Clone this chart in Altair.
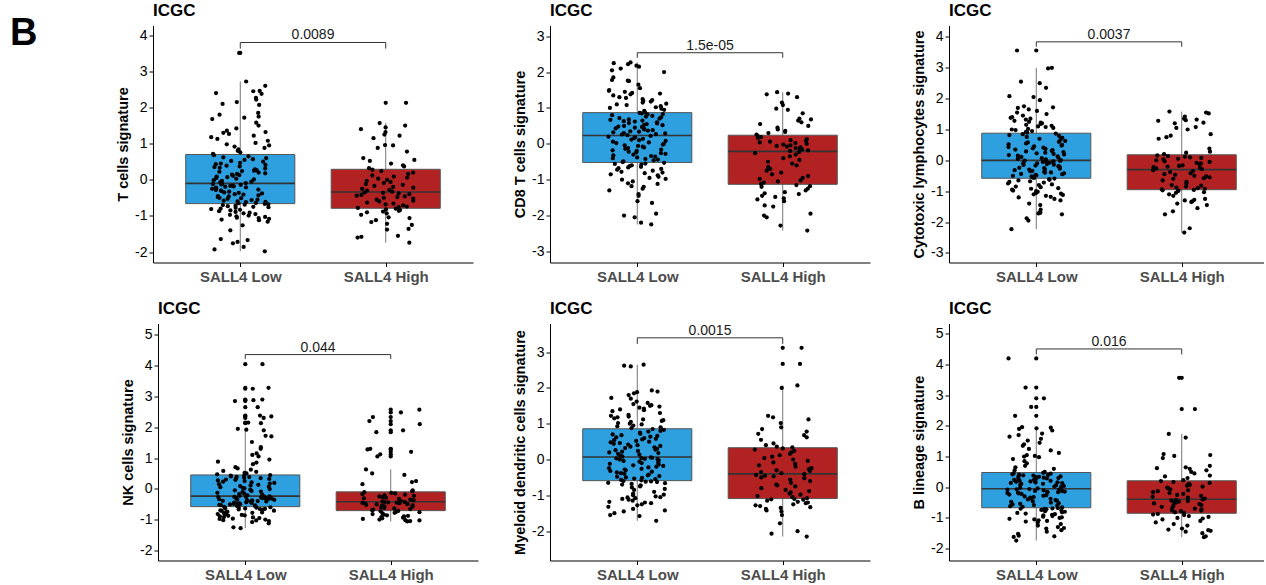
import altair as alt
import pandas as pd

FONT = "Liberation Sans"
GROUP_NAMES = ["SALL4 Low", "SALL4 High"]
BOX_FILL = ["#2E9FDF", "#B22222"]

# ---- panel texts -----------------------------------------------------------
y_titles = [
    "T cells signature",
    "CD8 T cells signature",
    "Cytotoxic lymphocytes signature",
    "NK cells signature",
    "Myeloid dendritic cells signature",
    "B lineage signature",
]
p_values = ["0.0089", "1.5e-05", "0.0037", "0.044", "0.0015", "0.016"]
bracket_top = [3.80, 2.54, 3.84, 4.36, 3.40, 4.51]
bracket_foot = [3.63, 2.40, 3.68, 4.22, 3.23, 4.33]
y_domains = [[-2.29, 4.27], [-3.31, 3.30], [-3.31, 4.37],
             [-2.33, 5.37], [-2.82, 3.80], [-2.39, 5.34]]
y_ticks = [list(range(-2, 5)), list(range(-3, 4)), list(range(-3, 5)),
           list(range(-2, 6)), list(range(-2, 4)), list(range(-2, 6))]

# ---- box statistics per panel: [SALL4 Low, SALL4 High] ---------------------
box_lo = [[-1.98, -1.74], [-2.25, -2.42], [-2.23, -2.34],
          [-1.28, -1.06], [-1.71, -2.15], [-1.74, -1.63]]
box_q1 = [[-0.66, -0.79], [-0.52, -1.13], [-0.58, -0.95],
          [-0.58, -0.71], [-0.59, -1.09], [-0.67, -0.85]]
box_med = [[-0.10, -0.34], [0.23, -0.21], [0.00, -0.30],
           [-0.24, -0.42], [0.07, -0.40], [-0.05, -0.39]]
box_q3 = [[0.70, 0.29], [0.87, 0.24], [0.88, 0.18],
          [0.45, -0.10], [0.86, 0.33], [0.48, 0.21]]
box_hi = [[2.72, 1.57], [2.27, 1.44], [3.00, 1.58],
          [1.95, 0.63], [2.65, 2.07], [1.96, 1.74]]

# ---- signature scores ------------------------------------------------------
t_low = [
    -1.98, -1.93, -1.86, -1.76, -1.72, -1.67, -1.64, -1.40, -1.26, -1.16,
    -1.12, -1.10, -1.08, -1.06, -1.05, -1.03, -1.01, -0.99, -0.97, -0.95,
    -0.93, -0.91, -0.89, -0.87, -0.85, -0.83, -0.81, -0.80, -0.78, -0.76,
    -0.75, -0.73, -0.72, -0.70, -0.69, -0.68, -0.67,
    -0.65, -0.64, -0.62, -0.61, -0.60, -0.58, -0.56, -0.55, -0.53, -0.51,
    -0.50, -0.48, -0.46, -0.45, -0.43, -0.41, -0.40, -0.38, -0.36, -0.35,
    -0.33, -0.31, -0.30, -0.28, -0.27, -0.25, -0.24, -0.22, -0.21, -0.19,
    -0.18, -0.17, -0.16, -0.14, -0.13, -0.12, -0.11,
    -0.09, -0.07, -0.05, -0.03, -0.01, 0.01, 0.03, 0.05, 0.07, 0.09,
    0.11, 0.13, 0.14, 0.16, 0.18, 0.20, 0.22, 0.24, 0.25, 0.27,
    0.29, 0.31, 0.33, 0.35, 0.37, 0.39, 0.41, 0.43, 0.45, 0.47,
    0.50, 0.52, 0.55, 0.57, 0.60, 0.62, 0.65, 0.68,
    0.72, 0.76, 0.80, 0.84, 0.88, 0.92, 0.95, 0.98, 1.02, 1.08,
    1.13, 1.18, 1.22, 1.27, 1.30, 1.32, 1.36, 1.42, 1.50, 1.58,
    1.68, 1.72, 1.75, 1.80, 1.85, 2.07, 2.10, 2.15, 2.22, 2.27,
    2.38, 2.40, 2.45, 2.46, 2.60, 2.72, 3.51,
]
t_high = [
    -1.74, -1.60, -1.58, -1.55, -1.38, -1.36, -1.25, -1.22, -1.17, -1.12,
    -1.06, -1.04, -0.97, -0.93, -0.90, -0.88, -0.86, -0.84, -0.82, -0.80,
    -0.78, -0.76, -0.74, -0.71, -0.68, -0.66, -0.63, -0.60, -0.58, -0.55,
    -0.52, -0.50, -0.48, -0.46, -0.44, -0.42, -0.40, -0.38, -0.36, -0.35,
    -0.33, -0.30, -0.28, -0.25, -0.22, -0.20, -0.17, -0.14, -0.12, -0.09,
    -0.06, -0.03, 0.00, 0.03, 0.06, 0.09, 0.12, 0.16, 0.20, 0.24, 0.28,
    0.32, 0.37, 0.40, 0.45, 0.52, 0.55, 0.60, 0.78, 0.88, 0.95,
    0.96, 1.15, 1.22, 1.25, 1.32, 1.40, 1.45, 1.50, 1.57, 2.13,
]
cd8_low = [
    -2.25, -2.20, -2.05, -2.00, -1.95, -1.65, -1.60, -1.45, -1.40, -1.30,
    -1.25, -1.20, -1.18, -1.12, -1.10, -1.05, -1.00, -0.98, -0.95, -0.92,
    -0.88, -0.85, -0.82, -0.80, -0.78, -0.75, -0.72, -0.70, -0.68, -0.66,
    -0.64, -0.62, -0.60, -0.58, -0.56, -0.55, -0.53,
    -0.51, -0.49, -0.46, -0.44, -0.42, -0.40, -0.38, -0.36, -0.34, -0.32,
    -0.30, -0.28, -0.26, -0.24, -0.22, -0.20, -0.18, -0.16, -0.14, -0.12,
    -0.10, -0.08, -0.06, -0.04, -0.02, 0.00, 0.02, 0.04, 0.06, 0.08,
    0.10, 0.12, 0.14, 0.16, 0.18, 0.20, 0.22,
    0.24, 0.26, 0.27, 0.29, 0.30, 0.32, 0.34, 0.35, 0.37, 0.38,
    0.40, 0.42, 0.43, 0.45, 0.47, 0.48, 0.50, 0.52, 0.53, 0.55,
    0.57, 0.58, 0.60, 0.62, 0.63, 0.65, 0.67, 0.68, 0.70, 0.72,
    0.74, 0.76, 0.78, 0.80, 0.82, 0.83, 0.85, 0.86,
    0.88, 0.92, 0.95, 0.98, 1.00, 1.02, 1.05, 1.08, 1.10, 1.12,
    1.15, 1.18, 1.20, 1.22, 1.25, 1.28, 1.30, 1.35, 1.38, 1.40,
    1.42, 1.45, 1.48, 1.50, 1.55, 1.65, 1.75, 1.76, 1.78, 1.85,
    2.00, 2.05, 2.10, 2.15, 2.18, 2.22, 2.25, 2.27,
]
cd8_high = [
    -2.42, -2.28, -2.05, -2.00, -1.95, -1.75, -1.72, -1.60, -1.55, -1.52,
    -1.48, -1.45, -1.40, -1.38, -1.35, -1.30, -1.25, -1.20, -1.18, -1.15,
    -1.12, -1.08, -1.05, -1.02, -0.98, -0.95, -0.90, -0.85, -0.80, -0.75,
    -0.70, -0.65, -0.60, -0.55, -0.50, -0.45, -0.40, -0.35, -0.30, -0.26,
    -0.23, -0.20, -0.18, -0.16, -0.14, -0.12, -0.10, -0.08, -0.06, -0.04,
    -0.02, 0.00, 0.02, 0.04, 0.06, 0.08, 0.10, 0.13, 0.16, 0.19, 0.22,
    0.26, 0.30, 0.33, 0.36, 0.40, 0.45, 0.50, 0.55, 0.60, 0.65,
    0.68, 0.70, 0.85, 0.95, 0.98, 1.08, 1.15, 1.30, 1.38, 1.40, 1.44,
]
cyt_low = [
    -2.23, -1.95, -1.88, -1.75, -1.72, -1.70, -1.68, -1.60, -1.45, -1.40,
    -1.30, -1.25, -1.20, -1.18, -1.15, -1.12, -1.10, -1.08, -1.05, -1.02,
    -1.00, -0.98, -0.95, -0.92, -0.90, -0.87, -0.85, -0.80, -0.78, -0.75,
    -0.72, -0.70, -0.68, -0.65, -0.63, -0.61, -0.59,
    -0.57, -0.55, -0.54, -0.52, -0.50, -0.49, -0.47, -0.45, -0.44, -0.42,
    -0.40, -0.39, -0.37, -0.35, -0.34, -0.32, -0.30, -0.29, -0.27, -0.25,
    -0.24, -0.22, -0.20, -0.19, -0.17, -0.15, -0.14, -0.12, -0.10, -0.09,
    -0.08, -0.07, -0.05, -0.04, -0.03, -0.02, -0.01,
    0.01, 0.03, 0.05, 0.07, 0.09, 0.11, 0.13, 0.15, 0.17, 0.19,
    0.21, 0.23, 0.25, 0.27, 0.29, 0.31, 0.33, 0.35, 0.37, 0.39,
    0.41, 0.43, 0.45, 0.48, 0.50, 0.52, 0.55, 0.58, 0.60, 0.63,
    0.66, 0.70, 0.73, 0.76, 0.79, 0.82, 0.85, 0.87,
    0.90, 0.92, 0.95, 0.98, 1.00, 1.02, 1.05, 1.08, 1.10, 1.12,
    1.15, 1.18, 1.20, 1.22, 1.25, 1.28, 1.32, 1.35, 1.38, 1.40,
    1.45, 1.50, 1.55, 1.60, 1.65, 1.70, 1.72, 1.75, 1.95, 2.05,
    2.08, 2.35, 2.50, 2.55, 2.98, 3.00, 3.56,
]
cyt_high = [
    -2.34, -2.20, -1.75, -1.65, -1.55, -1.45, -1.40, -1.35, -1.33, -1.30,
    -1.28, -1.25, -1.15, -1.10, -1.05, -1.03, -1.00, -0.98, -0.97, -0.96,
    -0.94, -0.92, -0.90, -0.88, -0.85, -0.82, -0.80, -0.75, -0.70, -0.65,
    -0.60, -0.58, -0.55, -0.52, -0.50, -0.47, -0.45, -0.42, -0.38, -0.35,
    -0.32, -0.28, -0.26, -0.24, -0.22, -0.20, -0.18, -0.16, -0.13, -0.10,
    -0.08, -0.05, -0.03, 0.00, 0.03, 0.05, 0.08, 0.10, 0.12, 0.14, 0.16,
    0.20, 0.25, 0.28, 0.38, 0.70, 0.75, 0.80, 0.85, 1.00, 1.05,
    1.08, 1.20, 1.22, 1.28, 1.30, 1.32, 1.35, 1.42, 1.52, 1.55, 1.58,
]
nk_low = [
    -1.28, -1.25, -1.12, -1.08, -1.05, -1.03, -1.02, -1.00, -0.98, -0.97,
    -0.95, -0.93, -0.92, -0.90, -0.88, -0.86, -0.85, -0.83, -0.82, -0.80,
    -0.78, -0.77, -0.75, -0.74, -0.72, -0.71, -0.70, -0.68, -0.67, -0.66,
    -0.65, -0.64, -0.63, -0.62, -0.61, -0.60, -0.59,
    -0.57, -0.56, -0.55, -0.54, -0.53, -0.52, -0.51, -0.50, -0.49, -0.48,
    -0.47, -0.46, -0.45, -0.44, -0.43, -0.42, -0.41, -0.40, -0.39, -0.38,
    -0.37, -0.36, -0.35, -0.34, -0.33, -0.32, -0.31, -0.30, -0.30, -0.29,
    -0.28, -0.28, -0.27, -0.26, -0.26, -0.25, -0.25,
    -0.23, -0.21, -0.19, -0.17, -0.15, -0.13, -0.11, -0.09, -0.07, -0.05,
    -0.03, -0.01, 0.01, 0.03, 0.05, 0.07, 0.09, 0.11, 0.13, 0.15,
    0.17, 0.19, 0.21, 0.23, 0.25, 0.27, 0.29, 0.30, 0.32, 0.33,
    0.35, 0.36, 0.38, 0.39, 0.40, 0.42, 0.43, 0.44,
    0.47, 0.50, 0.52, 0.55, 0.58, 0.62, 0.66, 0.70, 0.80, 0.85,
    0.88, 0.95, 1.05, 1.10, 1.15, 1.30, 1.35, 1.52, 1.70, 1.72,
    1.90, 1.92, 1.95,
    2.13, 2.15, 2.30, 2.35, 2.38, 2.65, 2.85, 2.88, 2.90, 3.25,
    3.28, 4.05,
]
nk_high = [
    -1.06, -1.05, -1.03, -1.02, -1.00, -0.98, -0.96, -0.94, -0.92, -0.90,
    -0.88, -0.86, -0.84, -0.82, -0.80, -0.78, -0.76, -0.75, -0.73, -0.72,
    -0.70, -0.68, -0.66, -0.64, -0.62, -0.60, -0.58, -0.57, -0.55, -0.54,
    -0.52, -0.51, -0.50, -0.48, -0.47, -0.46, -0.45, -0.44, -0.43, -0.43,
    -0.41, -0.39, -0.37, -0.35, -0.33, -0.31, -0.29, -0.27, -0.25, -0.23,
    -0.21, -0.19, -0.17, -0.15, -0.13, -0.11,
    -0.08, -0.05, 0.15, 0.22, 0.25, 0.45, 0.50, 0.63,
    1.05, 1.12, 1.20, 1.28, 1.30, 1.84, 1.90, 2.10, 2.20, 2.33,
    2.48, 2.57,
]
mdc_low = [
    -1.71, -1.58, -1.55, -1.50, -1.45, -1.42, -1.38, -1.32, -1.28, -1.25,
    -1.22, -1.20, -1.18, -1.15, -1.12, -1.10, -1.08, -1.06, -1.05, -1.03,
    -1.00, -0.98, -0.95, -0.90, -0.85, -0.82, -0.78, -0.75, -0.72, -0.70,
    -0.68, -0.66, -0.65, -0.63, -0.62, -0.61, -0.60,
    -0.58, -0.57, -0.55, -0.53, -0.51, -0.50, -0.48, -0.46, -0.44, -0.42,
    -0.40, -0.38, -0.36, -0.34, -0.32, -0.30, -0.28, -0.26, -0.24, -0.22,
    -0.20, -0.18, -0.16, -0.14, -0.12, -0.10, -0.08, -0.06, -0.04, -0.02,
    0.00, 0.01, 0.02, 0.03, 0.04, 0.05, 0.06,
    0.08, 0.10, 0.12, 0.14, 0.16, 0.18, 0.20, 0.22, 0.24, 0.26,
    0.28, 0.30, 0.32, 0.34, 0.36, 0.38, 0.40, 0.42, 0.44, 0.46,
    0.48, 0.50, 0.52, 0.54, 0.56, 0.58, 0.60, 0.62, 0.64, 0.66,
    0.68, 0.70, 0.72, 0.75, 0.78, 0.80, 0.83, 0.85,
    0.88, 0.90, 0.93, 0.95, 0.98, 1.00, 1.02, 1.05, 1.08, 1.10,
    1.12, 1.15, 1.18, 1.20, 1.22, 1.25, 1.30, 1.35, 1.38, 1.40,
    1.42, 1.45, 1.48, 1.50, 1.52, 1.55, 1.58, 1.62, 1.70, 1.72,
    1.80, 1.85, 1.88, 1.90, 1.93, 2.60, 2.62, 2.65,
]
mdc_high = [
    -2.15, -2.07, -2.00, -1.78, -1.55, -1.45, -1.42, -1.38, -1.35, -1.33,
    -1.30, -1.28, -1.25, -1.22, -1.20, -1.18, -1.15, -1.12, -1.11, -1.10,
    -1.08, -1.05, -1.02, -0.98, -0.95, -0.92, -0.88, -0.85, -0.80, -0.75,
    -0.72, -0.70, -0.65, -0.60, -0.56, -0.52, -0.50, -0.47, -0.45, -0.43,
    -0.41, -0.38, -0.35, -0.32, -0.30, -0.27, -0.24, -0.20, -0.16, -0.12,
    -0.08, -0.04, 0.00, 0.04, 0.08, 0.12, 0.16, 0.20, 0.24, 0.28, 0.31,
    0.34, 0.36, 0.40, 0.45, 0.55, 0.62, 0.68, 0.72, 0.78, 0.85,
    0.90, 1.02, 1.12, 1.18, 1.22, 2.00, 2.07, 2.67, 3.12,
]
b_low = [
    -1.74, -1.62, -1.60, -1.58, -1.52, -1.45, -1.40, -1.35, -1.33, -1.30,
    -1.25, -1.20, -1.15, -1.12, -1.10, -1.08, -1.05, -1.03, -1.00, -0.98,
    -0.96, -0.94, -0.92, -0.90, -0.88, -0.86, -0.84, -0.82, -0.80, -0.78,
    -0.76, -0.74, -0.72, -0.71, -0.70, -0.69, -0.68,
    -0.66, -0.64, -0.62, -0.60, -0.58, -0.56, -0.54, -0.52, -0.50, -0.48,
    -0.46, -0.44, -0.42, -0.40, -0.38, -0.36, -0.34, -0.32, -0.30, -0.28,
    -0.26, -0.24, -0.22, -0.20, -0.19, -0.18, -0.17, -0.16, -0.15, -0.14,
    -0.13, -0.12, -0.10, -0.09, -0.08, -0.07, -0.06,
    -0.04, -0.02, 0.00, 0.02, 0.04, 0.06, 0.08, 0.10, 0.11, 0.12,
    0.13, 0.14, 0.15, 0.16, 0.18, 0.19, 0.20, 0.21, 0.22, 0.24,
    0.25, 0.26, 0.28, 0.29, 0.30, 0.31, 0.33, 0.34, 0.35, 0.36,
    0.38, 0.39, 0.40, 0.41, 0.42, 0.44, 0.45, 0.47,
    0.50, 0.55, 0.60, 0.65, 0.70, 0.78, 0.85, 0.92, 0.98, 1.00,
    1.02, 1.05, 1.12, 1.20, 1.25, 1.35, 1.40, 1.45, 1.52, 1.58,
    1.65, 1.70, 1.75, 1.85, 1.90, 1.92, 1.94, 1.96,
    2.33, 2.62, 2.90, 3.25, 4.20,
]
b_high = [
    -1.63, -1.60, -1.50, -1.45, -1.42, -1.40, -1.38, -1.35, -1.25, -1.20,
    -1.15, -1.10, -1.05, -1.02, -1.00, -0.97, -0.94, -0.91, -0.89, -0.87,
    -0.84, -0.82, -0.80, -0.78, -0.76, -0.74, -0.72, -0.70, -0.67, -0.64,
    -0.61, -0.58, -0.55, -0.53, -0.51, -0.49, -0.47, -0.45, -0.43, -0.41,
    -0.40, -0.37, -0.34, -0.31, -0.28, -0.25, -0.22, -0.19, -0.16, -0.13,
    -0.10, -0.07, -0.04, -0.01, 0.02, 0.05, 0.08, 0.11, 0.14, 0.17, 0.20,
    0.23, 0.30, 0.35, 0.38, 0.45, 0.50, 0.55, 0.60, 0.62, 0.65,
    0.70, 0.95, 1.02, 1.05, 1.08, 1.62, 1.74, 2.55, 3.57,
]

scores = [(t_low, t_high), (cd8_low, cd8_high), (cyt_low, cyt_high),
          (nk_low, nk_high), (mdc_low, mdc_high), (b_low, b_high)]

PANEL_H = 237
BOX_HALF = 0.375
JITTER = 0.4


def make_panel(k, width, x_dom, x_range=None, y_offset=0, left=0, letter=False):
    low, high = scores[k]
    pts = pd.DataFrame({"g": [1] * len(low) + [2] * len(high), "v": low + high})
    stats = pd.DataFrame({
        "g": [1, 2], "grp": GROUP_NAMES,
        "lo": box_lo[k], "q1": box_q1[k], "med": box_med[k],
        "q3": box_q3[k], "hi": box_hi[k],
    })
    sx = dict(domain=x_dom, nice=False, zero=False)
    if x_range is not None:
        sx["range"] = x_range
    xs = alt.Scale(**sx)
    ys = alt.Scale(domain=y_domains[k], nice=False, zero=False)
    xax = alt.Axis(values=[1, 2], title=None, labelFlush=False,
                   labelExpr="datum.value == 1 ? 'SALL4 Low' : 'SALL4 High'")
    yax = alt.Axis(values=y_ticks[k], title=y_titles[k], offset=y_offset,
                   labelExpr="datum.value + ''")

    def X(f):
        return alt.X(f, scale=xs, axis=xax)

    def Y(f):
        return alt.Y(f, scale=ys, axis=yax)

    whisker = alt.Chart(stats).mark_rule(color="#666666", strokeWidth=0.9).encode(
        x=X("g:Q"), y=Y("lo:Q"), y2="hi:Q")

    boxes = alt.Chart(stats).transform_calculate(
        x0=f"datum.g - {BOX_HALF}", x1=f"datum.g + {BOX_HALF}"
    ).mark_bar(stroke="#555555", strokeWidth=1, opacity=1).encode(
        x=X("x0:Q"), x2="x1:Q", y=Y("q1:Q"), y2="q3:Q",
        color=alt.Color("grp:N", scale=alt.Scale(domain=GROUP_NAMES, range=BOX_FILL),
                        legend=None))

    median = alt.Chart(stats).transform_calculate(
        x0=f"datum.g - {BOX_HALF}", x1=f"datum.g + {BOX_HALF}"
    ).mark_rule(color="#333333", strokeWidth=1.6).encode(
        x=X("x0:Q"), x2="x1:Q", y=Y("med:Q"))

    # horizontal jitter: a fixed hash of the row number, so the layout is stable
    dots = alt.Chart(pts).transform_window(
        rn="row_number()"
    ).transform_calculate(
        h=f"sin(datum.rn * 12.9898 + {k} * 78.233) * 43758.5453"
    ).transform_calculate(
        xj=f"datum.g + (datum.h - floor(datum.h) - 0.5) * {JITTER}"
    ).mark_circle(size=18, color="black", opacity=1).encode(
        x=X("xj:Q"), y=Y("v:Q"))

    # points beyond the whiskers are also drawn on the box centre line
    outliers = alt.Chart(pts).transform_lookup(
        lookup="g", from_=alt.LookupData(stats, "g", ["lo", "hi"])
    ).transform_filter(
        "datum.v > datum.hi || datum.v < datum.lo"
    ).mark_circle(size=18, color="black", opacity=1).encode(
        x=X("g:Q"), y=Y("v:Q"))

    br = pd.DataFrame({
        "xa": [1, 1, 2], "xb": [2, 1, 2],
        "ya": [bracket_top[k]] * 3,
        "yb": [bracket_top[k], bracket_foot[k], bracket_foot[k]],
    })
    bracket = alt.Chart(br).mark_rule(color="#333333", strokeWidth=1).encode(
        x=X("xa:Q"), x2="xb:Q", y=Y("ya:Q"), y2="yb:Q")

    ptxt = alt.Chart(pd.DataFrame({"xm": [1.5], "y": [bracket_top[k]],
                                   "p": [p_values[k]]})).mark_text(
        font=FONT, fontSize=14, dy=-3, baseline="alphabetic", align="center",
        color="#1a1a1a").encode(x=X("xm:Q"), y=Y("y:Q"), text="p:N")

    head = alt.Chart(pd.DataFrame({"t": ["ICGC"]})).mark_text(
        font=FONT, fontSize=17, fontWeight="bold", align="left",
        baseline="alphabetic", color="black").encode(
        x=alt.value(left), y=alt.value(-9.5), text="t:N")

    layers = [whisker, boxes, median, dots, outliers, bracket, ptxt, head]
    if letter:
        tag = alt.Chart(pd.DataFrame({"t": ["B"]})).mark_text(
            font=FONT, fontSize=38, fontWeight="bold", align="left",
            baseline="alphabetic", color="black").encode(
            x=alt.value(-143), y=alt.value(19.3), text="t:N")
        layers.append(tag)

    return alt.layer(*layers).properties(width=width, height=PANEL_H)


X_FULL = [0.4, 2.6]
X_EDGE = [0.4, 0.4 + 315 / (320 / 2.2)]

panels = [
    make_panel(0, 320, X_FULL, letter=True),
    make_panel(1, 320, X_FULL),
    make_panel(2, 315, X_EDGE),
    make_panel(3, 325, X_FULL, x_range=[5, 325], y_offset=-5, left=5),
    make_panel(4, 327, X_FULL, x_range=[0, 320]),
    make_panel(5, 315, X_EDGE),
]

chart = alt.concat(
    *panels, columns=3, bounds="flush",
    spacing=alt.RowColnumber(row=61, column=72),
).properties(
    padding={"left": 10, "top": 1.5, "right": 0, "bottom": 0},
    background="white",
).configure_view(
    stroke=None
).configure_axis(
    domainColor="black", domainWidth=1, tickColor="black", tickWidth=1,
    tickSize=4, grid=False, labelFont=FONT, titleFont=FONT,
    labelColor="black", titleColor="black",
).configure_axisX(
    labelFontSize=15, labelFontWeight="bold", labelColor="#4D4D4D", labelPadding=3,
).configure_axisY(
    labelFontSize=14, labelPadding=2, titleFontSize=14.5, titleFontWeight="bold",
    titlePadding=4.5, minExtent=18, maxExtent=18,
)

chart.save("out.html", embed_options={"renderer": "svg", "actions": False})
